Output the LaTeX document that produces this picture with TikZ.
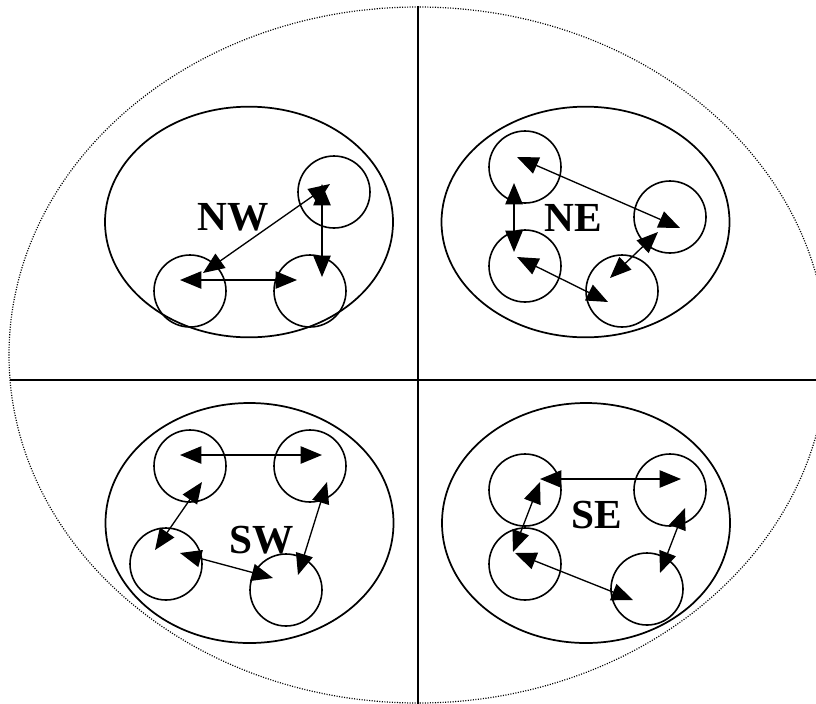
\documentclass[tikz,border=0pt]{standalone}
\usepackage{fontspec}
\setmainfont{Liberation Serif}
\usetikzlibrary{arrows.meta,shapes.geometric}

\begin{document}
\begin{tikzpicture}[
  x=0.75pt, y=-0.75pt,
  region/.style={ellipse, draw, line width=0.9pt, dash pattern=on 0.8pt off 1.1pt, inner sep=0pt, minimum width=613.5pt, minimum height=522pt},
  divider/.style={line width=1.2pt},
  group/.style={ellipse, draw, line width=1.3pt, inner sep=0pt, minimum width=216pt},
  member/.style={circle, draw, line width=1.2pt, inner sep=0pt, minimum size=54pt},
  tag/.style={font=\fontsize{31}{36}\selectfont\bfseries, inner sep=0pt},
  link/.style={{Triangle[length=16pt,width=13pt]}-{Triangle[length=16pt,width=13pt]}, line width=1pt}
]
\useasboundingbox (0,0) rectangle (816,703);

\node[region] (field) at (418,355) {};
\draw[divider] (field.north) -- (field.south);
\draw[divider] (10,380) -- (816,380);

% groups
\node[group, minimum height=173pt] (nw) at (249,222) {};
\node[group, minimum height=173pt] (ne) at (585.5,222) {};
\node[group, minimum height=180pt] (sw) at (249.5,523) {};
\node[group, minimum height=180pt] (se) at (586,523) {};

\node[tag] (nwLabel) at (233,217) {NW};
\node[tag] (neLabel) at (573,218) {NE};
\node[tag] (swLabel) at (262,540) {SW};
\node[tag] (seLabel) at (597,515) {SE};

% NW
\node[member] (nw1) at (334,192) {};
\node[member] (nw2) at (190,291) {};
\node[member] (nw3) at (310,291) {};
\draw[link] ([shift={(-10,-11)}]nw2.center) -- ([shift={(-13,-11)}]nw3.center);
\draw[link] ([shift={(-4,-8)}]nw1.center) -- ([shift={(13,-18)}]nw2.center);
\draw[link] ([shift={(-12,-8)}]nw1.center) -- ([shift={(12,-14)}]nw3.center);

% NE
\node[member] (ne1) at (525,167) {};
\node[member] (ne2) at (670,217) {};
\node[member] (ne3) at (525,266) {};
\node[member] (ne4) at (622,291) {};
\draw[link] ([shift={(-8,-10)}]ne1.center) -- ([shift={(10,11)}]ne2.center);
\draw[link] ([shift={(-11,16)}]ne1.center) -- ([shift={(-11,-14)}]ne3.center);
\draw[link] ([shift={(-8,-9)}]ne3.center) -- ([shift={(-14,11)}]ne4.center);
\draw[link] ([shift={(-12,15)}]ne2.center) -- ([shift={(-12,-13)}]ne4.center);

% SW
\node[member] (sw1) at (190,466) {};
\node[member] (sw2) at (310,466) {};
\node[member] (sw3) at (166,564) {};
\node[member] (sw4) at (286,590) {};
\draw[link] ([shift={(-10,-11)}]sw1.center) -- ([shift={(12,-11)}]sw2.center);
\draw[link] ([shift={(12,16)}]sw1.center) -- ([shift={(-11,-14)}]sw3.center);
\draw[link] ([shift={(14,-11)}]sw3.center) -- ([shift={(-13,-12)}]sw4.center);
\draw[link] ([shift={(17,16)}]sw2.center) -- ([shift={(12,-15)}]sw4.center);

% SE
\node[member] (se1) at (525,490) {};
\node[member] (se2) at (670,490) {};
\node[member] (se3) at (525,564) {};
\node[member] (se4) at (647,589) {};
\draw[link] ([shift={(15,-11)}]se1.center) -- ([shift={(11,-11)}]se2.center);
\draw[link] ([shift={(15,-8)}]se1.center) -- ([shift={(-12,-12)}]se3.center);
\draw[link] ([shift={(-10,-11)}]se3.center) -- ([shift={(-14,11)}]se4.center);
\draw[link] ([shift={(15,18)}]se2.center) -- ([shift={(13,-16)}]se4.center);
\end{tikzpicture}
\end{document}
